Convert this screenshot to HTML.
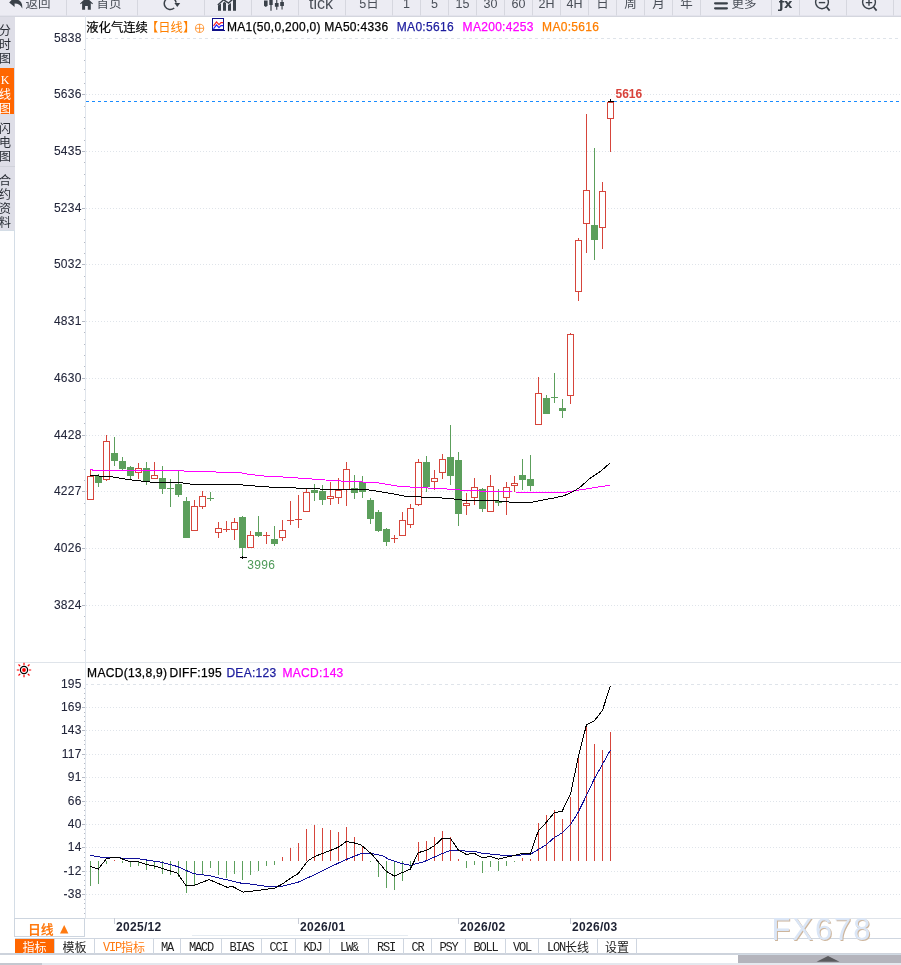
<!DOCTYPE html>
<html><head><meta charset="utf-8">
<style>
*{margin:0;padding:0;box-sizing:border-box}
html,body{width:901px;height:965px;overflow:hidden;background:#fff;position:relative;font-family:"Liberation Sans","Noto Sans CJK SC",sans-serif}
.abs{position:absolute}
#tb{position:absolute;left:0;top:0;width:901px;height:17px;background:#ececf3;border-bottom:1px solid #d4d6de;overflow:hidden}
.b{position:absolute;top:-6px;height:22px;border-left:1px solid #d6d7df;border-bottom:1px solid #e3e3ec;background:#ececf3;color:#4a4f58;font-size:12.5px;line-height:20px;text-align:center;white-space:nowrap}
#lc{position:absolute;left:0;top:17px;width:15px;height:213px;background:#dedee7;overflow:hidden}
#lcb{position:absolute;left:14px;top:230px;width:1px;height:689px;background:#d4dde6}
#lcb2{position:absolute;left:0;top:230px;width:15px;height:1px;background:#d4dde6}
.lt{position:absolute;left:-2px;width:14px;font-size:12px;line-height:14px;color:#2a2e36;font-family:"Noto Sans CJK SC",sans-serif;text-align:center}
svg text{font-family:"Liberation Sans","Noto Sans CJK SC",sans-serif}
.ax{font-size:12px;fill:#22253a;letter-spacing:0.3px;stroke:#22253a;stroke-width:0.08px}
.lo{font-size:12px;fill:#4e9a58;letter-spacing:0.33px}
.hi{font-size:12px;font-weight:bold;fill:#d9423a}
.hdt text{font-size:12px;letter-spacing:0.3px;fill:#000;stroke:#000;stroke-width:0.25px}
.cj{font-size:12.3px;fill:#000;stroke:#000;stroke-width:0.2px;font-family:"Noto Sans CJK SC",sans-serif!important}
.xl text{font-size:12px;font-weight:bold;fill:#1e2233;letter-spacing:0.3px}
.wm{font-size:31px;fill:#dbe6f6;letter-spacing:1.9px}
.tab{position:absolute;top:939px;height:15px;border-left:1px solid #cfd6e0;font-size:12px;line-height:15px;text-align:center;color:#222;font-family:"Noto Sans CJK SC",sans-serif;white-space:nowrap}
.lm{font-family:"Liberation Mono",monospace;letter-spacing:-1.2px;position:relative;top:-1px;color:inherit}
</style></head><body>
<div id="tb">
<div class="b" style="left:0;width:66px;border-left:none;padding-left:10px">返回</div>
<div class="b" style="left:66px;width:71px;padding-left:14px">首页</div>
<div class="b" style="left:137px;width:67px"></div>
<div class="b" style="left:204px;width:47px"></div>
<div class="b" style="left:251px;width:47px"></div>
<div class="b" style="left:298px;width:47px;font-size:16px;padding-right:2px">tick</div>
<div class="b" style="left:345px;width:47px">5日</div>
<div class="b" style="left:392px;width:28px">1</div>
<div class="b" style="left:420px;width:28px">5</div>
<div class="b" style="left:448px;width:28px">15</div>
<div class="b" style="left:476px;width:28px">30</div>
<div class="b" style="left:504px;width:28px">60</div>
<div class="b" style="left:532px;width:28px">2H</div>
<div class="b" style="left:560px;width:28px">4H</div>
<div class="b" style="left:588px;width:28px">日</div>
<div class="b" style="left:616px;width:28px">周</div>
<div class="b" style="left:644px;width:28px">月</div>
<div class="b" style="left:672px;width:28px">年</div>
<div class="b" style="left:700px;width:71px;padding-left:16px">更多</div>
<div class="b" style="left:771px;width:28px;font:bold 13px 'DejaVu Sans',sans-serif;line-height:20px;color:#3a4149;letter-spacing:-0.3px">ƒx</div>
<div class="b" style="left:799px;width:47px"></div>
<div class="b" style="left:846px;width:47px"></div>
<div class="b" style="left:893px;width:47px"></div>

<svg class="abs" style="left:0;top:0" width="901" height="17" viewBox="0 0 901 17">
<g fill="#3a4149">
<path d="M9.2,2.4 L14.6,-3 L14.6,-0.8 C19.5,-0.8 23,2.5 22.2,8.6 C20.8,5.2 18.5,3.6 14.6,3.6 L14.6,7 Z"/>
<path d="M80,3.6 L86.5,-2.6 L93,3.6 L92.2,4.3 L90.8,3 L90.8,9.8 L87.8,9.8 L87.8,6 L85.1,6 L85.1,9.8 L82.1,9.8 L82.1,3 L80.8,4.3 Z"/>
<path d="M174.4,3.0 L180.2,3.0 L177.3,7.0 Z"/>
<path d="M218,5.6 L221,3.6 L221,10.8 L218,10.8 Z M223,10.8 L223,3 L224.4,1.8 L226,3 L226,10.8 Z M228,10.8 L228,5 L231,3 L231,10.8 Z M233,10.8 L233,0 L236,-2 L236,10.8 Z"/>
<path d="M264,0.6 h3.6 v5.2 l-1.8,1.2 l-1.8,-1.2 Z M269.3,-1 h3.4 v6 h-3.4 Z M270.4,4 h1.2 v6.8 h-1.2 Z M274.9,3 h3.7 v3.8 h-3.7 Z M276.2,-1 h1.1 v10.8 h-1.1 Z M280.2,2 h3.7 v4 h-3.7 Z M281.5,-1 h1.1 v10.6 h-1.1 Z"/>
<rect x="714" y="-2.6" width="14" height="2.2" rx="1.1"/>
<rect x="714" y="2.2" width="14" height="2.2" rx="1.1"/>
<rect x="714" y="7.2" width="14" height="2.2" rx="1.1"/>
</g>
<g fill="none" stroke="#3a4149" stroke-width="1.5">
<path d="M176.1,2.6 A5.95,5.95 0 1 0 174.2,8.0"/>
<path d="M217.8,5 L223.6,-0.2 L228.6,3 L234.5,-2.5" stroke-width="1.4"/>
<circle cx="822" cy="2.3" r="6.4" stroke-width="1.4"/>
<path d="M826.6,7 L829.6,10.6" stroke-width="1.7"/>
<path d="M818.8,2.6 H825.2" stroke-width="1.4"/>
<circle cx="869" cy="2.3" r="6.4" stroke-width="1.4"/>
<path d="M873.6,7 L876.6,10.6" stroke-width="1.7"/>
<path d="M865.8,2.6 H872.2 M869,-0.6 V5.8" stroke-width="1.4"/>
</g>
</svg>
</div>
<div id="lc">
<div class="lt" style="top:6px">分<br>时<br>图</div>
<div class="abs" style="left:0;top:51px;width:14px;height:46px;background:#ff6600"></div>
<div class="lt" style="top:55px;color:#fff"><span style="font-family:'Liberation Serif',serif">K</span><br>线<br>图</div>
<div class="abs" style="left:0;top:149px;width:15px;height:1px;background:#d0d2da"></div>
<div class="lt" style="top:104px">闪<br>电<br>图</div>
<div class="lt" style="top:156px">合<br>约<br>资<br>料</div>
</div>
<div id="lcb"></div><div id="lcb2"></div>
<svg class="abs" style="left:0;top:0" width="901" height="965" viewBox="0 0 901 965">
<line x1="85" y1="38.5" x2="901" y2="38.5" stroke="#dfe4ea" stroke-dasharray="3,3"/>
<text x="81.8" y="42.3" class="ax" text-anchor="end">5838</text>
<line x1="84" y1="49.5" x2="85" y2="49.5" stroke="#b4b9c4"/>
<line x1="84" y1="60.5" x2="85" y2="60.5" stroke="#b4b9c4"/>
<line x1="84" y1="72.5" x2="85" y2="72.5" stroke="#b4b9c4"/>
<line x1="84" y1="83.5" x2="85" y2="83.5" stroke="#b4b9c4"/>
<line x1="86" y1="94.5" x2="901" y2="94.5" stroke="#dfe4ea" stroke-dasharray="1,2"/>
<line x1="82" y1="94.5" x2="85" y2="94.5" stroke="#b4b9c4"/>
<text x="81.8" y="98.3" class="ax" text-anchor="end">5636</text>
<line x1="84" y1="106.5" x2="85" y2="106.5" stroke="#b4b9c4"/>
<line x1="84" y1="117.5" x2="85" y2="117.5" stroke="#b4b9c4"/>
<line x1="84" y1="128.5" x2="85" y2="128.5" stroke="#b4b9c4"/>
<line x1="84" y1="140.5" x2="85" y2="140.5" stroke="#b4b9c4"/>
<line x1="86" y1="151.5" x2="901" y2="151.5" stroke="#dfe4ea" stroke-dasharray="1,2"/>
<line x1="82" y1="151.5" x2="85" y2="151.5" stroke="#b4b9c4"/>
<text x="81.8" y="155.3" class="ax" text-anchor="end">5435</text>
<line x1="84" y1="162.5" x2="85" y2="162.5" stroke="#b4b9c4"/>
<line x1="84" y1="174.5" x2="85" y2="174.5" stroke="#b4b9c4"/>
<line x1="84" y1="185.5" x2="85" y2="185.5" stroke="#b4b9c4"/>
<line x1="84" y1="196.5" x2="85" y2="196.5" stroke="#b4b9c4"/>
<line x1="86" y1="208.5" x2="901" y2="208.5" stroke="#dfe4ea" stroke-dasharray="1,2"/>
<line x1="82" y1="208.5" x2="85" y2="208.5" stroke="#b4b9c4"/>
<text x="81.8" y="212.3" class="ax" text-anchor="end">5234</text>
<line x1="84" y1="219.5" x2="85" y2="219.5" stroke="#b4b9c4"/>
<line x1="84" y1="230.5" x2="85" y2="230.5" stroke="#b4b9c4"/>
<line x1="84" y1="242.5" x2="85" y2="242.5" stroke="#b4b9c4"/>
<line x1="84" y1="253.5" x2="85" y2="253.5" stroke="#b4b9c4"/>
<line x1="86" y1="264.5" x2="901" y2="264.5" stroke="#dfe4ea" stroke-dasharray="1,2"/>
<line x1="82" y1="264.5" x2="85" y2="264.5" stroke="#b4b9c4"/>
<text x="81.8" y="268.3" class="ax" text-anchor="end">5032</text>
<line x1="84" y1="276.5" x2="85" y2="276.5" stroke="#b4b9c4"/>
<line x1="84" y1="287.5" x2="85" y2="287.5" stroke="#b4b9c4"/>
<line x1="84" y1="298.5" x2="85" y2="298.5" stroke="#b4b9c4"/>
<line x1="84" y1="310.5" x2="85" y2="310.5" stroke="#b4b9c4"/>
<line x1="86" y1="321.5" x2="901" y2="321.5" stroke="#dfe4ea" stroke-dasharray="1,2"/>
<line x1="82" y1="321.5" x2="85" y2="321.5" stroke="#b4b9c4"/>
<text x="81.8" y="325.3" class="ax" text-anchor="end">4831</text>
<line x1="84" y1="332.5" x2="85" y2="332.5" stroke="#b4b9c4"/>
<line x1="84" y1="344.5" x2="85" y2="344.5" stroke="#b4b9c4"/>
<line x1="84" y1="355.5" x2="85" y2="355.5" stroke="#b4b9c4"/>
<line x1="84" y1="366.5" x2="85" y2="366.5" stroke="#b4b9c4"/>
<line x1="86" y1="378.5" x2="901" y2="378.5" stroke="#dfe4ea" stroke-dasharray="1,2"/>
<line x1="82" y1="378.5" x2="85" y2="378.5" stroke="#b4b9c4"/>
<text x="81.8" y="382.3" class="ax" text-anchor="end">4630</text>
<line x1="84" y1="389.5" x2="85" y2="389.5" stroke="#b4b9c4"/>
<line x1="84" y1="400.5" x2="85" y2="400.5" stroke="#b4b9c4"/>
<line x1="84" y1="412.5" x2="85" y2="412.5" stroke="#b4b9c4"/>
<line x1="84" y1="423.5" x2="85" y2="423.5" stroke="#b4b9c4"/>
<line x1="86" y1="435.5" x2="901" y2="435.5" stroke="#dfe4ea" stroke-dasharray="1,2"/>
<line x1="82" y1="435.5" x2="85" y2="435.5" stroke="#b4b9c4"/>
<text x="81.8" y="439.3" class="ax" text-anchor="end">4428</text>
<line x1="84" y1="446.5" x2="85" y2="446.5" stroke="#b4b9c4"/>
<line x1="84" y1="457.5" x2="85" y2="457.5" stroke="#b4b9c4"/>
<line x1="84" y1="469.5" x2="85" y2="469.5" stroke="#b4b9c4"/>
<line x1="84" y1="480.5" x2="85" y2="480.5" stroke="#b4b9c4"/>
<line x1="86" y1="491.5" x2="901" y2="491.5" stroke="#dfe4ea" stroke-dasharray="1,2"/>
<line x1="82" y1="491.5" x2="85" y2="491.5" stroke="#b4b9c4"/>
<text x="81.8" y="495.3" class="ax" text-anchor="end">4227</text>
<line x1="84" y1="503.5" x2="85" y2="503.5" stroke="#b4b9c4"/>
<line x1="84" y1="514.5" x2="85" y2="514.5" stroke="#b4b9c4"/>
<line x1="84" y1="525.5" x2="85" y2="525.5" stroke="#b4b9c4"/>
<line x1="84" y1="537.5" x2="85" y2="537.5" stroke="#b4b9c4"/>
<line x1="86" y1="548.5" x2="901" y2="548.5" stroke="#dfe4ea" stroke-dasharray="1,2"/>
<line x1="82" y1="548.5" x2="85" y2="548.5" stroke="#b4b9c4"/>
<text x="81.8" y="552.3" class="ax" text-anchor="end">4026</text>
<line x1="84" y1="559.5" x2="85" y2="559.5" stroke="#b4b9c4"/>
<line x1="84" y1="571.5" x2="85" y2="571.5" stroke="#b4b9c4"/>
<line x1="84" y1="582.5" x2="85" y2="582.5" stroke="#b4b9c4"/>
<line x1="84" y1="593.5" x2="85" y2="593.5" stroke="#b4b9c4"/>
<line x1="86" y1="605.5" x2="901" y2="605.5" stroke="#dfe4ea" stroke-dasharray="1,2"/>
<line x1="82" y1="605.5" x2="85" y2="605.5" stroke="#b4b9c4"/>
<text x="81.8" y="609.3" class="ax" text-anchor="end">3824</text>
<line x1="84" y1="616.5" x2="85" y2="616.5" stroke="#b4b9c4"/>
<line x1="84" y1="627.5" x2="85" y2="627.5" stroke="#b4b9c4"/>
<line x1="84" y1="639.5" x2="85" y2="639.5" stroke="#b4b9c4"/>
<line x1="84" y1="650.5" x2="85" y2="650.5" stroke="#b4b9c4"/>
<line x1="85" y1="684.5" x2="901" y2="684.5" stroke="#dfe4ea" stroke-dasharray="3,3"/>
<text x="81.8" y="688.3" class="ax" text-anchor="end">195</text>
<line x1="84" y1="688.5" x2="85" y2="688.5" stroke="#b4b9c4"/>
<line x1="84" y1="693.5" x2="85" y2="693.5" stroke="#b4b9c4"/>
<line x1="84" y1="698.5" x2="85" y2="698.5" stroke="#b4b9c4"/>
<line x1="84" y1="702.5" x2="85" y2="702.5" stroke="#b4b9c4"/>
<line x1="86" y1="707.5" x2="901" y2="707.5" stroke="#dfe4ea" stroke-dasharray="1,2"/>
<line x1="82" y1="707.5" x2="85" y2="707.5" stroke="#b4b9c4"/>
<text x="81.8" y="711.3" class="ax" text-anchor="end">169</text>
<line x1="84" y1="712.5" x2="85" y2="712.5" stroke="#b4b9c4"/>
<line x1="84" y1="716.5" x2="85" y2="716.5" stroke="#b4b9c4"/>
<line x1="84" y1="721.5" x2="85" y2="721.5" stroke="#b4b9c4"/>
<line x1="84" y1="726.5" x2="85" y2="726.5" stroke="#b4b9c4"/>
<line x1="86" y1="730.5" x2="901" y2="730.5" stroke="#dfe4ea" stroke-dasharray="1,2"/>
<line x1="82" y1="730.5" x2="85" y2="730.5" stroke="#b4b9c4"/>
<text x="81.8" y="734.3" class="ax" text-anchor="end">143</text>
<line x1="84" y1="735.5" x2="85" y2="735.5" stroke="#b4b9c4"/>
<line x1="84" y1="740.5" x2="85" y2="740.5" stroke="#b4b9c4"/>
<line x1="84" y1="744.5" x2="85" y2="744.5" stroke="#b4b9c4"/>
<line x1="84" y1="749.5" x2="85" y2="749.5" stroke="#b4b9c4"/>
<line x1="86" y1="754.5" x2="901" y2="754.5" stroke="#dfe4ea" stroke-dasharray="1,2"/>
<line x1="82" y1="754.5" x2="85" y2="754.5" stroke="#b4b9c4"/>
<text x="81.8" y="758.3" class="ax" text-anchor="end">117</text>
<line x1="84" y1="758.5" x2="85" y2="758.5" stroke="#b4b9c4"/>
<line x1="84" y1="763.5" x2="85" y2="763.5" stroke="#b4b9c4"/>
<line x1="84" y1="768.5" x2="85" y2="768.5" stroke="#b4b9c4"/>
<line x1="84" y1="772.5" x2="85" y2="772.5" stroke="#b4b9c4"/>
<line x1="86" y1="777.5" x2="901" y2="777.5" stroke="#dfe4ea" stroke-dasharray="1,2"/>
<line x1="82" y1="777.5" x2="85" y2="777.5" stroke="#b4b9c4"/>
<text x="81.8" y="781.3" class="ax" text-anchor="end">91</text>
<line x1="84" y1="782.5" x2="85" y2="782.5" stroke="#b4b9c4"/>
<line x1="84" y1="786.5" x2="85" y2="786.5" stroke="#b4b9c4"/>
<line x1="84" y1="791.5" x2="85" y2="791.5" stroke="#b4b9c4"/>
<line x1="84" y1="796.5" x2="85" y2="796.5" stroke="#b4b9c4"/>
<line x1="86" y1="801.5" x2="901" y2="801.5" stroke="#dfe4ea" stroke-dasharray="1,2"/>
<line x1="82" y1="801.5" x2="85" y2="801.5" stroke="#b4b9c4"/>
<text x="81.8" y="805.3" class="ax" text-anchor="end">66</text>
<line x1="84" y1="805.5" x2="85" y2="805.5" stroke="#b4b9c4"/>
<line x1="84" y1="810.5" x2="85" y2="810.5" stroke="#b4b9c4"/>
<line x1="84" y1="815.5" x2="85" y2="815.5" stroke="#b4b9c4"/>
<line x1="84" y1="819.5" x2="85" y2="819.5" stroke="#b4b9c4"/>
<line x1="86" y1="824.5" x2="901" y2="824.5" stroke="#dfe4ea" stroke-dasharray="1,2"/>
<line x1="82" y1="824.5" x2="85" y2="824.5" stroke="#b4b9c4"/>
<text x="81.8" y="828.3" class="ax" text-anchor="end">40</text>
<line x1="84" y1="829.5" x2="85" y2="829.5" stroke="#b4b9c4"/>
<line x1="84" y1="833.5" x2="85" y2="833.5" stroke="#b4b9c4"/>
<line x1="84" y1="838.5" x2="85" y2="838.5" stroke="#b4b9c4"/>
<line x1="84" y1="843.5" x2="85" y2="843.5" stroke="#b4b9c4"/>
<line x1="86" y1="847.5" x2="901" y2="847.5" stroke="#dfe4ea" stroke-dasharray="1,2"/>
<line x1="82" y1="847.5" x2="85" y2="847.5" stroke="#b4b9c4"/>
<text x="81.8" y="851.3" class="ax" text-anchor="end">14</text>
<line x1="84" y1="852.5" x2="85" y2="852.5" stroke="#b4b9c4"/>
<line x1="84" y1="857.5" x2="85" y2="857.5" stroke="#b4b9c4"/>
<line x1="84" y1="861.5" x2="85" y2="861.5" stroke="#b4b9c4"/>
<line x1="84" y1="866.5" x2="85" y2="866.5" stroke="#b4b9c4"/>
<line x1="86" y1="871.5" x2="901" y2="871.5" stroke="#dfe4ea" stroke-dasharray="1,2"/>
<line x1="82" y1="871.5" x2="85" y2="871.5" stroke="#b4b9c4"/>
<text x="81.8" y="875.3" class="ax" text-anchor="end">-12</text>
<line x1="84" y1="875.5" x2="85" y2="875.5" stroke="#b4b9c4"/>
<line x1="84" y1="880.5" x2="85" y2="880.5" stroke="#b4b9c4"/>
<line x1="84" y1="885.5" x2="85" y2="885.5" stroke="#b4b9c4"/>
<line x1="84" y1="889.5" x2="85" y2="889.5" stroke="#b4b9c4"/>
<line x1="86" y1="894.5" x2="901" y2="894.5" stroke="#dfe4ea" stroke-dasharray="1,2"/>
<line x1="82" y1="894.5" x2="85" y2="894.5" stroke="#b4b9c4"/>
<text x="81.8" y="898.3" class="ax" text-anchor="end">-38</text>
<line x1="84" y1="899.5" x2="85" y2="899.5" stroke="#b4b9c4"/>
<line x1="84" y1="903.5" x2="85" y2="903.5" stroke="#b4b9c4"/>
<line x1="84" y1="908.5" x2="85" y2="908.5" stroke="#b4b9c4"/>
<line x1="84" y1="913.5" x2="85" y2="913.5" stroke="#b4b9c4"/>
<line x1="85.5" y1="16" x2="85.5" y2="918" stroke="#e0e5ec"/>
<line x1="15" y1="662.5" x2="901" y2="662.5" stroke="#dfe4ea"/>
<line x1="86" y1="101.5" x2="901" y2="101.5" stroke="#1a8cff" stroke-width="1" stroke-dasharray="3,3"/>
<g shape-rendering="crispEdges"><line x1="90.5" y1="469" x2="90.5" y2="476" stroke="#d6453b"/><rect x="87.5" y="476.5" width="6" height="23" fill="#fff" stroke="#d6453b"/><line x1="98.5" y1="474" x2="98.5" y2="476" stroke="#5c9f5c"/><line x1="98.5" y1="483" x2="98.5" y2="487" stroke="#5c9f5c"/><rect x="95" y="476" width="7" height="7" fill="#5c9f5c"/><line x1="106.5" y1="435" x2="106.5" y2="441" stroke="#d6453b"/><line x1="106.5" y1="480" x2="106.5" y2="481" stroke="#d6453b"/><rect x="103.5" y="441.5" width="6" height="38" fill="#fff" stroke="#d6453b"/><line x1="114.5" y1="437" x2="114.5" y2="453" stroke="#5c9f5c"/><line x1="114.5" y1="461" x2="114.5" y2="466" stroke="#5c9f5c"/><rect x="111" y="453" width="7" height="8" fill="#5c9f5c"/><line x1="122.5" y1="457" x2="122.5" y2="461" stroke="#5c9f5c"/><line x1="122.5" y1="469" x2="122.5" y2="470" stroke="#5c9f5c"/><rect x="119" y="461" width="7" height="8" fill="#5c9f5c"/><line x1="130.5" y1="466" x2="130.5" y2="467" stroke="#5c9f5c"/><line x1="130.5" y1="476" x2="130.5" y2="480" stroke="#5c9f5c"/><rect x="127" y="467" width="7" height="9" fill="#5c9f5c"/><line x1="138.5" y1="463" x2="138.5" y2="468" stroke="#d6453b"/><line x1="138.5" y1="473" x2="138.5" y2="479" stroke="#d6453b"/><rect x="135.5" y="468.5" width="6" height="4" fill="#fff" stroke="#d6453b"/><line x1="146.5" y1="462" x2="146.5" y2="468" stroke="#5c9f5c"/><line x1="146.5" y1="481" x2="146.5" y2="485" stroke="#5c9f5c"/><rect x="143" y="468" width="7" height="13" fill="#5c9f5c"/><line x1="154.5" y1="462" x2="154.5" y2="475" stroke="#d6453b"/><rect x="151.5" y="475.5" width="6" height="3" fill="#fff" stroke="#d6453b"/><line x1="162.5" y1="466" x2="162.5" y2="478" stroke="#5c9f5c"/><line x1="162.5" y1="489" x2="162.5" y2="494" stroke="#5c9f5c"/><rect x="159" y="478" width="7" height="11" fill="#5c9f5c"/><line x1="167" y1="488.5" x2="174" y2="488.5" stroke="#5c9f5c"/><line x1="170.5" y1="479" x2="170.5" y2="507" stroke="#5c9f5c"/><line x1="178.5" y1="471" x2="178.5" y2="484" stroke="#5c9f5c"/><line x1="178.5" y1="495" x2="178.5" y2="497" stroke="#5c9f5c"/><rect x="175" y="484" width="7" height="11" fill="#5c9f5c"/><line x1="186.5" y1="497" x2="186.5" y2="501" stroke="#5c9f5c"/><rect x="183" y="501" width="7" height="37" fill="#5c9f5c"/><line x1="194.5" y1="500" x2="194.5" y2="506" stroke="#d6453b"/><rect x="191.5" y="506.5" width="6" height="24" fill="#fff" stroke="#d6453b"/><line x1="202.5" y1="491" x2="202.5" y2="496" stroke="#d6453b"/><line x1="202.5" y1="507" x2="202.5" y2="509" stroke="#d6453b"/><rect x="199.5" y="496.5" width="6" height="10" fill="#fff" stroke="#d6453b"/><line x1="207" y1="498.5" x2="214" y2="498.5" stroke="#5c9f5c"/><line x1="210.5" y1="492" x2="210.5" y2="501" stroke="#5c9f5c"/><line x1="218.5" y1="522" x2="218.5" y2="528" stroke="#d6453b"/><line x1="218.5" y1="533" x2="218.5" y2="538" stroke="#d6453b"/><rect x="215.5" y="528.5" width="6" height="4" fill="#fff" stroke="#d6453b"/><line x1="223" y1="529.5" x2="230" y2="529.5" stroke="#d6453b"/><line x1="226.5" y1="521" x2="226.5" y2="532" stroke="#d6453b"/><line x1="234.5" y1="518" x2="234.5" y2="522" stroke="#d6453b"/><line x1="234.5" y1="530" x2="234.5" y2="540" stroke="#d6453b"/><rect x="231.5" y="522.5" width="6" height="7" fill="#fff" stroke="#d6453b"/><line x1="242.5" y1="516" x2="242.5" y2="517" stroke="#5c9f5c"/><line x1="242.5" y1="548" x2="242.5" y2="557" stroke="#5c9f5c"/><rect x="239" y="517" width="7" height="31" fill="#5c9f5c"/><line x1="250.5" y1="531" x2="250.5" y2="535" stroke="#d6453b"/><rect x="247.5" y="535.5" width="6" height="12" fill="#fff" stroke="#d6453b"/><line x1="258.5" y1="516" x2="258.5" y2="532" stroke="#5c9f5c"/><line x1="258.5" y1="536" x2="258.5" y2="537" stroke="#5c9f5c"/><rect x="255" y="532" width="7" height="4" fill="#5c9f5c"/><line x1="263" y1="535.5" x2="270" y2="535.5" stroke="#d6453b"/><line x1="266.5" y1="532" x2="266.5" y2="544" stroke="#d6453b"/><line x1="274.5" y1="526" x2="274.5" y2="539" stroke="#5c9f5c"/><line x1="274.5" y1="544" x2="274.5" y2="546" stroke="#5c9f5c"/><rect x="271" y="539" width="7" height="5" fill="#5c9f5c"/><line x1="282.5" y1="520" x2="282.5" y2="530" stroke="#d6453b"/><line x1="282.5" y1="538" x2="282.5" y2="541" stroke="#d6453b"/><rect x="279.5" y="530.5" width="6" height="7" fill="#fff" stroke="#d6453b"/><line x1="287" y1="520.5" x2="294" y2="520.5" stroke="#d6453b"/><line x1="290.5" y1="501" x2="290.5" y2="525" stroke="#d6453b"/><line x1="295" y1="519.5" x2="302" y2="519.5" stroke="#d6453b"/><line x1="298.5" y1="495" x2="298.5" y2="528" stroke="#d6453b"/><line x1="306.5" y1="489" x2="306.5" y2="492" stroke="#d6453b"/><rect x="303.5" y="492.5" width="6" height="19" fill="#fff" stroke="#d6453b"/><line x1="314.5" y1="484" x2="314.5" y2="490" stroke="#5c9f5c"/><line x1="314.5" y1="493" x2="314.5" y2="501" stroke="#5c9f5c"/><rect x="311" y="490" width="7" height="3" fill="#5c9f5c"/><line x1="322.5" y1="485" x2="322.5" y2="491" stroke="#5c9f5c"/><line x1="322.5" y1="500" x2="322.5" y2="505" stroke="#5c9f5c"/><rect x="319" y="491" width="7" height="9" fill="#5c9f5c"/><line x1="330.5" y1="482" x2="330.5" y2="496" stroke="#d6453b"/><line x1="330.5" y1="499" x2="330.5" y2="505" stroke="#d6453b"/><rect x="327.5" y="496.5" width="6" height="2" fill="#fff" stroke="#d6453b"/><line x1="338.5" y1="478" x2="338.5" y2="490" stroke="#d6453b"/><line x1="338.5" y1="498" x2="338.5" y2="504" stroke="#d6453b"/><rect x="335.5" y="490.5" width="6" height="7" fill="#fff" stroke="#d6453b"/><line x1="346.5" y1="462" x2="346.5" y2="469" stroke="#d6453b"/><line x1="346.5" y1="490" x2="346.5" y2="506" stroke="#d6453b"/><rect x="343.5" y="469.5" width="6" height="20" fill="#fff" stroke="#d6453b"/><line x1="354.5" y1="475" x2="354.5" y2="488" stroke="#5c9f5c"/><line x1="354.5" y1="493" x2="354.5" y2="499" stroke="#5c9f5c"/><rect x="351" y="488" width="7" height="5" fill="#5c9f5c"/><line x1="362.5" y1="476" x2="362.5" y2="482" stroke="#5c9f5c"/><line x1="362.5" y1="492" x2="362.5" y2="498" stroke="#5c9f5c"/><rect x="359" y="482" width="7" height="10" fill="#5c9f5c"/><line x1="370.5" y1="498" x2="370.5" y2="500" stroke="#5c9f5c"/><line x1="370.5" y1="519" x2="370.5" y2="524" stroke="#5c9f5c"/><rect x="367" y="500" width="7" height="19" fill="#5c9f5c"/><line x1="378.5" y1="510" x2="378.5" y2="512" stroke="#5c9f5c"/><line x1="378.5" y1="531" x2="378.5" y2="532" stroke="#5c9f5c"/><rect x="375" y="512" width="7" height="19" fill="#5c9f5c"/><line x1="386.5" y1="528" x2="386.5" y2="529" stroke="#5c9f5c"/><line x1="386.5" y1="542" x2="386.5" y2="546" stroke="#5c9f5c"/><rect x="383" y="529" width="7" height="13" fill="#5c9f5c"/><line x1="391" y1="538.5" x2="398" y2="538.5" stroke="#d6453b"/><line x1="394.5" y1="535" x2="394.5" y2="543" stroke="#d6453b"/><line x1="402.5" y1="512" x2="402.5" y2="520" stroke="#d6453b"/><rect x="399.5" y="520.5" width="6" height="15" fill="#fff" stroke="#d6453b"/><line x1="410.5" y1="504" x2="410.5" y2="508" stroke="#d6453b"/><line x1="410.5" y1="525" x2="410.5" y2="528" stroke="#d6453b"/><rect x="407.5" y="508.5" width="6" height="16" fill="#fff" stroke="#d6453b"/><line x1="418.5" y1="459" x2="418.5" y2="462" stroke="#d6453b"/><line x1="418.5" y1="505" x2="418.5" y2="506" stroke="#d6453b"/><rect x="415.5" y="462.5" width="6" height="42" fill="#fff" stroke="#d6453b"/><line x1="426.5" y1="456" x2="426.5" y2="462" stroke="#5c9f5c"/><line x1="426.5" y1="487" x2="426.5" y2="492" stroke="#5c9f5c"/><rect x="423" y="462" width="7" height="25" fill="#5c9f5c"/><line x1="434.5" y1="470" x2="434.5" y2="478" stroke="#d6453b"/><line x1="434.5" y1="482" x2="434.5" y2="490" stroke="#d6453b"/><rect x="431.5" y="478.5" width="6" height="3" fill="#fff" stroke="#d6453b"/><line x1="442.5" y1="454" x2="442.5" y2="459" stroke="#d6453b"/><line x1="442.5" y1="473" x2="442.5" y2="479" stroke="#d6453b"/><rect x="439.5" y="459.5" width="6" height="13" fill="#fff" stroke="#d6453b"/><line x1="450.5" y1="425" x2="450.5" y2="457" stroke="#5c9f5c"/><line x1="450.5" y1="476" x2="450.5" y2="485" stroke="#5c9f5c"/><rect x="447" y="457" width="7" height="19" fill="#5c9f5c"/><line x1="458.5" y1="452" x2="458.5" y2="460" stroke="#5c9f5c"/><line x1="458.5" y1="514" x2="458.5" y2="526" stroke="#5c9f5c"/><rect x="455" y="460" width="7" height="54" fill="#5c9f5c"/><line x1="466.5" y1="493" x2="466.5" y2="503" stroke="#d6453b"/><line x1="466.5" y1="506" x2="466.5" y2="515" stroke="#d6453b"/><rect x="463.5" y="503.5" width="6" height="2" fill="#fff" stroke="#d6453b"/><line x1="474.5" y1="478" x2="474.5" y2="487" stroke="#d6453b"/><line x1="474.5" y1="498" x2="474.5" y2="505" stroke="#d6453b"/><rect x="471.5" y="487.5" width="6" height="10" fill="#fff" stroke="#d6453b"/><line x1="482.5" y1="488" x2="482.5" y2="489" stroke="#5c9f5c"/><line x1="482.5" y1="509" x2="482.5" y2="512" stroke="#5c9f5c"/><rect x="479" y="489" width="7" height="20" fill="#5c9f5c"/><line x1="490.5" y1="475" x2="490.5" y2="486" stroke="#d6453b"/><rect x="487.5" y="486.5" width="6" height="25" fill="#fff" stroke="#d6453b"/><line x1="498.5" y1="489" x2="498.5" y2="501" stroke="#5c9f5c"/><line x1="498.5" y1="503" x2="498.5" y2="506" stroke="#5c9f5c"/><rect x="495" y="501" width="7" height="2" fill="#5c9f5c"/><line x1="506.5" y1="482" x2="506.5" y2="487" stroke="#d6453b"/><line x1="506.5" y1="498" x2="506.5" y2="515" stroke="#d6453b"/><rect x="503.5" y="487.5" width="6" height="10" fill="#fff" stroke="#d6453b"/><line x1="514.5" y1="476" x2="514.5" y2="483" stroke="#d6453b"/><line x1="514.5" y1="486" x2="514.5" y2="492" stroke="#d6453b"/><rect x="511.5" y="483.5" width="6" height="2" fill="#fff" stroke="#d6453b"/><line x1="522.5" y1="459" x2="522.5" y2="475" stroke="#5c9f5c"/><line x1="522.5" y1="480" x2="522.5" y2="490" stroke="#5c9f5c"/><rect x="519" y="475" width="7" height="5" fill="#5c9f5c"/><line x1="530.5" y1="455" x2="530.5" y2="479" stroke="#5c9f5c"/><line x1="530.5" y1="486" x2="530.5" y2="491" stroke="#5c9f5c"/><rect x="527" y="479" width="7" height="7" fill="#5c9f5c"/><line x1="538.5" y1="377" x2="538.5" y2="393" stroke="#d6453b"/><rect x="535.5" y="393.5" width="6" height="31" fill="#fff" stroke="#d6453b"/><line x1="546.5" y1="395" x2="546.5" y2="398" stroke="#5c9f5c"/><rect x="543" y="398" width="7" height="16" fill="#5c9f5c"/><line x1="551" y1="397.5" x2="558" y2="397.5" stroke="#5c9f5c"/><line x1="554.5" y1="373" x2="554.5" y2="403" stroke="#5c9f5c"/><line x1="562.5" y1="399" x2="562.5" y2="408" stroke="#5c9f5c"/><line x1="562.5" y1="411" x2="562.5" y2="418" stroke="#5c9f5c"/><rect x="559" y="408" width="7" height="3" fill="#5c9f5c"/><line x1="570.5" y1="333" x2="570.5" y2="334" stroke="#d6453b"/><line x1="570.5" y1="396" x2="570.5" y2="404" stroke="#d6453b"/><rect x="567.5" y="334.5" width="6" height="61" fill="#fff" stroke="#d6453b"/><line x1="578.5" y1="238" x2="578.5" y2="240" stroke="#d6453b"/><line x1="578.5" y1="292" x2="578.5" y2="301" stroke="#d6453b"/><rect x="575.5" y="240.5" width="6" height="51" fill="#fff" stroke="#d6453b"/><line x1="586.5" y1="114" x2="586.5" y2="190" stroke="#d6453b"/><line x1="586.5" y1="224" x2="586.5" y2="253" stroke="#d6453b"/><rect x="583.5" y="190.5" width="6" height="33" fill="#fff" stroke="#d6453b"/><line x1="594.5" y1="148" x2="594.5" y2="225" stroke="#5c9f5c"/><line x1="594.5" y1="240" x2="594.5" y2="260" stroke="#5c9f5c"/><rect x="591" y="225" width="7" height="15" fill="#5c9f5c"/><line x1="602.5" y1="182" x2="602.5" y2="191" stroke="#d6453b"/><line x1="602.5" y1="228" x2="602.5" y2="249" stroke="#d6453b"/><rect x="599.5" y="191.5" width="6" height="36" fill="#fff" stroke="#d6453b"/><line x1="610.5" y1="99" x2="610.5" y2="102" stroke="#d6453b"/><line x1="610.5" y1="119" x2="610.5" y2="152" stroke="#d6453b"/><rect x="607.5" y="102.5" width="6" height="16" fill="#fff" stroke="#d6453b"/></g>
<polyline points="90.0,469.4 95.0,470.6 183.0,470.6 185.0,471.5 215.0,471.5 217.0,472.4 239.0,472.4 247.7,474.2 263.6,476.0 286.7,477.2 302.7,478.3 318.7,479.5 334.7,480.7 350.7,481.5 375.5,482.5 389.0,484.6 399.7,486.4 415.6,487.3 431.6,488.2 454.7,489.4 463.6,490.5 511.6,492.0 565.5,492.2 574.4,490.8 590.0,488.3 609.7,485.3" fill="none" stroke="#ff00ff" stroke-width="1" shape-rendering="crispEdges"/>
<polyline points="90.3,475.6 110.0,476.5 118.7,478.0 127.6,479.5 135.6,480.4 143.6,481.3 151.6,482.2 182.7,483.0 191.6,484.3 237.0,484.3 245.9,485.4 254.8,486.0 270.7,487.1 295.6,488.0 327.6,489.3 364.9,489.3 373.8,490.7 389.0,493.1 406.8,496.5 431.6,497.4 447.6,498.3 463.6,500.2 502.7,501.1 511.6,502.4 530.0,502.7 540.0,500.5 552.2,498.3 563.3,496.0 573.3,491.6 580.0,487.2 590.0,478.3 601.0,471.0 609.7,463.3" fill="none" stroke="#000" stroke-width="1" shape-rendering="crispEdges"/>
<g shape-rendering="crispEdges" stroke="#000"><line x1="240" y1="557.5" x2="247" y2="557.5"/><line x1="242.5" y1="556" x2="242.5" y2="559"/><line x1="608" y1="101.5" x2="614" y2="101.5"/><line x1="610.5" y1="99" x2="610.5" y2="102"/></g>
<text x="247.2" y="569" class="lo">3996</text>
<text x="615.5" y="98.2" class="hi">5616</text>
<g shape-rendering="crispEdges"><line x1="90.5" y1="861" x2="90.5" y2="886" stroke="#5c9f5c"/><line x1="98.5" y1="861" x2="98.5" y2="884" stroke="#5c9f5c"/><line x1="106.5" y1="861" x2="106.5" y2="864" stroke="#5c9f5c"/><line x1="114.5" y1="860" x2="114.5" y2="861" stroke="#d6453b"/><line x1="122.5" y1="861" x2="122.5" y2="863" stroke="#5c9f5c"/><line x1="130.5" y1="861" x2="130.5" y2="867" stroke="#5c9f5c"/><line x1="138.5" y1="861" x2="138.5" y2="866" stroke="#5c9f5c"/><line x1="146.5" y1="861" x2="146.5" y2="870" stroke="#5c9f5c"/><line x1="154.5" y1="861" x2="154.5" y2="869" stroke="#5c9f5c"/><line x1="162.5" y1="861" x2="162.5" y2="874" stroke="#5c9f5c"/><line x1="170.5" y1="861" x2="170.5" y2="875" stroke="#5c9f5c"/><line x1="178.5" y1="861" x2="178.5" y2="877" stroke="#5c9f5c"/><line x1="186.5" y1="861" x2="186.5" y2="893" stroke="#5c9f5c"/><line x1="194.5" y1="861" x2="194.5" y2="885" stroke="#5c9f5c"/><line x1="202.5" y1="861" x2="202.5" y2="875" stroke="#5c9f5c"/><line x1="210.5" y1="861" x2="210.5" y2="868" stroke="#5c9f5c"/><line x1="218.5" y1="861" x2="218.5" y2="875" stroke="#5c9f5c"/><line x1="226.5" y1="861" x2="226.5" y2="878" stroke="#5c9f5c"/><line x1="234.5" y1="861" x2="234.5" y2="874" stroke="#5c9f5c"/><line x1="242.5" y1="861" x2="242.5" y2="880" stroke="#5c9f5c"/><line x1="250.5" y1="861" x2="250.5" y2="875" stroke="#5c9f5c"/><line x1="258.5" y1="861" x2="258.5" y2="871" stroke="#5c9f5c"/><line x1="266.5" y1="861" x2="266.5" y2="866" stroke="#5c9f5c"/><line x1="274.5" y1="861" x2="274.5" y2="865" stroke="#5c9f5c"/><line x1="282.5" y1="857" x2="282.5" y2="861" stroke="#d6453b"/><line x1="290.5" y1="848" x2="290.5" y2="861" stroke="#d6453b"/><line x1="298.5" y1="843" x2="298.5" y2="861" stroke="#d6453b"/><line x1="306.5" y1="829" x2="306.5" y2="861" stroke="#d6453b"/><line x1="314.5" y1="825" x2="314.5" y2="861" stroke="#d6453b"/><line x1="322.5" y1="828" x2="322.5" y2="861" stroke="#d6453b"/><line x1="330.5" y1="830" x2="330.5" y2="861" stroke="#d6453b"/><line x1="338.5" y1="832" x2="338.5" y2="861" stroke="#d6453b"/><line x1="346.5" y1="827" x2="346.5" y2="861" stroke="#d6453b"/><line x1="354.5" y1="837" x2="354.5" y2="861" stroke="#d6453b"/><line x1="362.5" y1="846" x2="362.5" y2="861" stroke="#d6453b"/><line x1="370.5" y1="861" x2="370.5" y2="862" stroke="#5c9f5c"/><line x1="378.5" y1="861" x2="378.5" y2="877" stroke="#5c9f5c"/><line x1="386.5" y1="861" x2="386.5" y2="888" stroke="#5c9f5c"/><line x1="394.5" y1="861" x2="394.5" y2="890" stroke="#5c9f5c"/><line x1="402.5" y1="861" x2="402.5" y2="881" stroke="#5c9f5c"/><line x1="410.5" y1="861" x2="410.5" y2="869" stroke="#5c9f5c"/><line x1="418.5" y1="842" x2="418.5" y2="861" stroke="#d6453b"/><line x1="426.5" y1="841" x2="426.5" y2="861" stroke="#d6453b"/><line x1="434.5" y1="837" x2="434.5" y2="861" stroke="#d6453b"/><line x1="442.5" y1="831" x2="442.5" y2="861" stroke="#d6453b"/><line x1="450.5" y1="837" x2="450.5" y2="861" stroke="#d6453b"/><line x1="458.5" y1="859" x2="458.5" y2="861" stroke="#d6453b"/><line x1="466.5" y1="861" x2="466.5" y2="868" stroke="#5c9f5c"/><line x1="474.5" y1="861" x2="474.5" y2="865" stroke="#5c9f5c"/><line x1="482.5" y1="861" x2="482.5" y2="873" stroke="#5c9f5c"/><line x1="490.5" y1="861" x2="490.5" y2="867" stroke="#5c9f5c"/><line x1="498.5" y1="861" x2="498.5" y2="871" stroke="#5c9f5c"/><line x1="506.5" y1="861" x2="506.5" y2="866" stroke="#5c9f5c"/><line x1="514.5" y1="861" x2="514.5" y2="862" stroke="#5c9f5c"/><line x1="522.5" y1="858" x2="522.5" y2="861" stroke="#d6453b"/><line x1="530.5" y1="859" x2="530.5" y2="861" stroke="#d6453b"/><line x1="538.5" y1="823" x2="538.5" y2="861" stroke="#d6453b"/><line x1="546.5" y1="815" x2="546.5" y2="861" stroke="#d6453b"/><line x1="554.5" y1="810" x2="554.5" y2="861" stroke="#d6453b"/><line x1="562.5" y1="819" x2="562.5" y2="861" stroke="#d6453b"/><line x1="570.5" y1="797" x2="570.5" y2="861" stroke="#d6453b"/><line x1="578.5" y1="755" x2="578.5" y2="861" stroke="#d6453b"/><line x1="586.5" y1="724" x2="586.5" y2="861" stroke="#d6453b"/><line x1="594.5" y1="744" x2="594.5" y2="861" stroke="#d6453b"/><line x1="602.5" y1="750" x2="602.5" y2="861" stroke="#d6453b"/><line x1="610.5" y1="732" x2="610.5" y2="861" stroke="#d6453b"/></g>
<polyline points="90.3,855.3 102.8,857.6 134.7,858.3 159.6,861.9 177.4,866.5 193.3,873.6 209.3,875.7 241.3,883.2 245.9,883.4 263.6,886.0 281.4,886.4 297.4,882.5 311.6,876.1 325.8,869.1 343.6,860.6 361.3,853.5 370.2,853.2 382.6,855.8 389.0,859.4 399.7,862.9 410.3,865.4 424.5,861.5 442.3,853.5 450.3,850.5 463.6,850.9 476.0,851.7 481.4,853.2 502.7,855.3 516.9,855.3 530.2,854.4 538.3,849.5 546.2,844.7 554.3,837.6 562.2,832.9 570.5,824.6 578.3,812.1 586.4,795.5 594.3,778.9 602.4,764.4 610.5,749.9" fill="none" stroke="#10109a" stroke-width="1" shape-rendering="crispEdges"/>
<polyline points="90.3,866.5 98.3,869.1 106.3,858.8 112.5,857.6 118.7,857.6 129.4,861.5 138.3,861.9 147.2,864.7 156.0,866.5 168.5,870.4 177.4,873.1 186.2,886.0 195.1,885.0 209.3,879.6 227.1,887.3 232.4,886.4 243.2,892.1 254.8,890.8 274.3,888.2 281.4,884.6 290.3,878.4 298.3,873.6 307.2,861.5 313.4,857.1 322.3,853.5 329.4,850.9 338.2,847.3 346.2,841.6 354.2,842.9 361.3,845.2 372.0,854.4 386.2,871.3 394.3,876.1 410.3,869.1 418.3,852.6 426.3,850.5 434.3,845.9 442.3,838.4 450.3,838.1 458.3,850.0 466.3,854.4 473.9,853.2 482.3,857.6 490.2,856.5 498.2,859.2 506.2,857.1 513.3,855.8 522.2,853.5 530.2,854.0 538.3,830.8 546.2,822.5 554.3,812.7 562.2,811.1 570.5,794.1 578.3,757.1 586.4,725.0 594.3,720.8 602.4,710.5 610.5,685.6" fill="none" stroke="#000" stroke-width="1" shape-rendering="crispEdges"/>
<text x="86.3" y="32" class="cj">液化气连续</text>
<text x="146" y="32" class="cj" style="fill:#ff8000;stroke:none">【日线】</text>
<g class="hdt">
<text x="227" y="31">MA1(50,0,200,0)</text><text x="324.3" y="31">MA50:4336</text>
<text x="396.8" y="31" style="fill:#1c1c9e;stroke:#1c1c9e">MA0:5616</text><text x="462.6" y="31" style="fill:#ff00ff;stroke:#ff00ff">MA200:4253</text><text x="542.1" y="31" style="fill:#ff7f00;stroke:#ff7f00">MA0:5616</text>
<text x="87.1" y="676.8">MACD(13,8,9)</text><text x="169.5" y="676.8">DIFF:195</text><text x="226.4" y="676.8" style="fill:#1c1c9e;stroke:#1c1c9e">DEA:123</text><text x="282.5" y="676.8" style="fill:#ff00ff;stroke:#ff00ff">MACD:143</text>
</g>
</svg>

<svg class="abs" style="left:0;top:0" width="901" height="965" viewBox="0 0 901 965">
<g fill="none" stroke="#ff8a1e" stroke-width="0.85"><circle cx="199.6" cy="28.3" r="4.1"/><path d="M195.4,28.3 H203.8 M199.6,24.1 V32.5"/></g>
<g shape-rendering="crispEdges"><rect x="212.5" y="18.5" width="11" height="11.5" fill="#fff" stroke="#101088" stroke-width="1.3"/><line x1="212" y1="30.5" x2="224.5" y2="30.5" stroke="#101088" stroke-width="1.4"/></g>
<polyline points="213.5,25.8 216.5,21.8 219,24.6 221,22.6 223,22.6" fill="none" stroke="#ff2020" stroke-width="1.1"/>
<polyline points="213.5,28.8 216.5,24.8 219,27.6 221,25.6 223,25.6" fill="none" stroke="#2020ff" stroke-width="1.1"/>
<g transform="translate(24,670)">
<circle r="3.6" fill="none" stroke="#000" stroke-width="1.2"/><circle r="1.9" fill="#f00"/>
<g stroke="#f00" stroke-width="1.2"><path d="M0,-4.8V-7.2 M0,4.8V7.2 M-4.8,0H-7.2 M4.8,0H7.2 M3.8,3.8L5.5,5.5 M-3.8,3.8L-5.5,5.5 M3.8,-3.8L5.5,-5.5 M-3.8,-3.8L-5.5,-5.5"/></g>
</g>
<g shape-rendering="crispEdges">
<line x1="15" y1="918.5" x2="901" y2="918.5" stroke="#dfe4ea"/>
<rect x="14.5" y="918.5" width="70" height="18" fill="#fff" stroke="#cdd5df"/>
<line x1="114.5" y1="918" x2="114.5" y2="924" stroke="#c8ccd6"/>
<line x1="298.5" y1="918" x2="298.5" y2="924" stroke="#c8ccd6"/>
<line x1="458.5" y1="918" x2="458.5" y2="924" stroke="#c8ccd6"/>
<line x1="570.5" y1="918" x2="570.5" y2="924" stroke="#c8ccd6"/>
<line x1="192" y1="935.5" x2="408" y2="935.5" stroke="#e6ecf2"/>
<line x1="15" y1="938.5" x2="901" y2="938.5" stroke="#cfd6e0"/>
<rect x="0" y="953" width="901" height="2" fill="#cdd3dc"/>
<rect x="15" y="939" width="39" height="14" fill="#ff6600"/>
<rect x="0" y="963" width="901" height="2" fill="#e4e8ee"/>
<rect x="0" y="963" width="42" height="2" fill="#c4c8d0"/>
<rect x="738" y="955" width="163" height="8" fill="#b4b4bc"/>
<rect x="738" y="954" width="163" height="1" fill="#d0dae4"/>
</g>
<path d="M816.6,961.8 L828,955.9 L839.5,961.8 Z" fill="#5a5a5e"/>
<g fill="#ff7a10"><path d="M60,933.4 L64.2,925 L68.4,933.4 Z"/></g>
<g class="xl">
<text x="116" y="931">2025/12</text><text x="300" y="931">2026/01</text><text x="460" y="931">2026/02</text><text x="572" y="931">2026/03</text>
</g>
<text x="772.5" y="941" class="wm" style="fill:#cdb59c">FX678</text><text x="771.5" y="940" class="wm">FX678</text>
</svg>
<div class="abs" style="left:28px;top:920.5px;font:bold 12.8px 'Noto Sans CJK SC',sans-serif;color:#ff7a10;line-height:16px">日线</div>
<div class="tab" style="left:15px;width:39px;color:#fff;border-left:none;">指标</div>
<div class="tab" style="left:54px;width:40px;color:#222;">模板</div>
<div class="tab" style="left:94px;width:59px;color:#ff7a10;"><span class="lm">VIP</span>指标</div>
<div class="tab" style="left:153px;width:27px;color:#222;"><span class="lm">MA</span></div>
<div class="tab" style="left:180px;width:41px;color:#222;"><span class="lm">MACD</span></div>
<div class="tab" style="left:221px;width:40px;color:#222;"><span class="lm">BIAS</span></div>
<div class="tab" style="left:261px;width:34px;color:#222;"><span class="lm">CCI</span></div>
<div class="tab" style="left:295px;width:34px;color:#222;"><span class="lm">KDJ</span></div>
<div class="tab" style="left:329px;width:39px;color:#222;"><span class="lm">LW&amp;</span></div>
<div class="tab" style="left:368px;width:35px;color:#222;"><span class="lm">RSI</span></div>
<div class="tab" style="left:403px;width:28px;color:#222;"><span class="lm">CR</span></div>
<div class="tab" style="left:431px;width:34px;color:#222;"><span class="lm">PSY</span></div>
<div class="tab" style="left:465px;width:40px;color:#222;"><span class="lm">BOLL</span></div>
<div class="tab" style="left:505px;width:33px;color:#222;"><span class="lm">VOL</span></div>
<div class="tab" style="left:538px;width:59px;color:#222;"><span class="lm">LON</span>长线</div>
<div class="tab" style="left:597px;width:39px;color:#222;">设置</div>
<div class="tab" style="left:636px;width:265px"></div>
</body></html>
